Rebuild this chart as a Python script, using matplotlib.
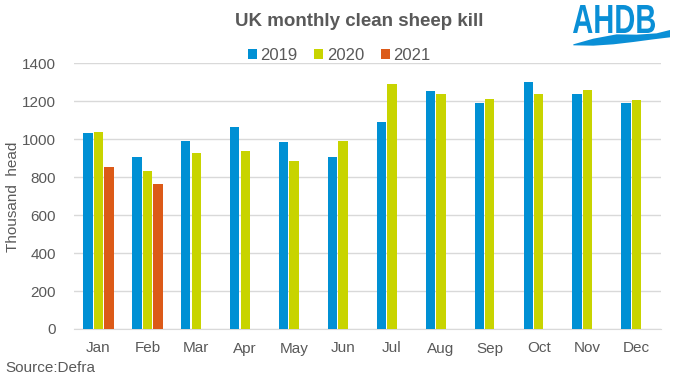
import numpy as np
import matplotlib
matplotlib.use("Agg")
import matplotlib.pyplot as plt
from matplotlib.textpath import TextPath
from matplotlib.patches import PathPatch, Polygon
from matplotlib.font_manager import FontProperties
from matplotlib.transforms import Affine2D

months = ["Jan", "Feb", "Mar", "Apr", "May", "Jun", "Jul", "Aug", "Sep", "Oct", "Nov", "Dec"]
y2019 = [1031, 905, 989, 1063, 984, 905, 1091, 1254, 1191, 1302, 1239, 1191]
y2020 = [1037, 832, 926, 937, 884, 989, 1291, 1239, 1212, 1239, 1260, 1207]
y2021 = [852, 763]
series_names = ["2019", "2020", "2021"]
colors = ["#0090D4", "#C8D400", "#DC5A18"]
txt = "#595959"

plt.rcParams['font.family'] = ['Liberation Sans', 'DejaVu Sans']
W, H = 673, 378
fig = plt.figure(figsize=(W/100, H/100), dpi=100)
ax = fig.add_axes([74/W, 1-329/H, 587/W, (329-63.3)/H])

x = np.arange(len(months))
bw = 0.19
off = 0.215
ax.bar(x - off, y2019, bw, color=colors[0], label=series_names[0], zorder=3)
ax.bar(x, y2020, bw, color=colors[1], label=series_names[1], zorder=3)
ax.bar(x[:len(y2021)] + off, y2021, bw, color=colors[2], label=series_names[2], zorder=3)

ax.set_xlim(-0.5, 11.5)
ax.set_ylim(0, 1400)
ax.set_yticks(range(0, 1401, 200))
ax.set_xticks(x)
ax.set_xticklabels(months)
ax.grid(axis='y', color='#D9D9D9', linewidth=1, zorder=0)
for s in ['top', 'right', 'left']:
    ax.spines[s].set_visible(False)
ax.spines['bottom'].set_color('#D9D9D9')
ax.tick_params(axis='both', length=0, colors=txt, labelsize=11)
ax.tick_params(axis='x', pad=9)
ax.tick_params(axis='y', pad=13)
fig.text(13/W, 1-197/H, "Thousand  head", rotation=90, ha='center', va='center',
         color=txt, fontsize=11)

fig.text(359.5/W, 1-21/H, "UK monthly clean sheep kill", ha='center', va='center',
         fontsize=13.5, fontweight='bold', color=txt)
leg = fig.legend(loc='center', bbox_to_anchor=(339/W, 1-55/H), ncol=3, frameon=False,
                 fontsize=12, handlelength=0.55, handleheight=0.55, handletextpad=0.2,
                 columnspacing=1.0, labelcolor=txt, borderpad=0, borderaxespad=0)
fig.text(5/W, 1-368/H, "Source:Defra", ha='left', va='center', fontsize=11, color=txt)

# AHDB logo
logo_blue = "#0A8FD6"
tp = TextPath((0, 0), "AHDB", size=100, prop=FontProperties(family='Liberation Sans', weight='bold'))
ext = tp.get_extents()
x0, x1, y0, y1 = 573, 655, 5, 33  # pixel box (from top)
sx = (x1 - x0) / ext.width
sy = (y1 - y0) / ext.height
tr = (Affine2D().translate(-ext.x0, -ext.y0).scale(sx, sy).translate(x0, H - y1)
      .scale(1/W, 1/H) + fig.transFigure)
fig.patches.append(PathPatch(tp, transform=tr, facecolor=logo_blue, edgecolor='none'))
upper = [(40, 133), (100, 116), (170, 103), (230, 104), (290, 100), (330, 90)]
lower = [(330, 112), (280, 118), (220, 126), (160, 133), (100, 137), (40, 136)]
pts = [((560 + a/3)/W, 1 - (b/3)/H) for a, b in upper + lower]
fig.patches.append(Polygon(pts, closed=True, transform=fig.transFigure,
                           facecolor=logo_blue, edgecolor='none'))

fig.savefig("out.png", dpi=100)
